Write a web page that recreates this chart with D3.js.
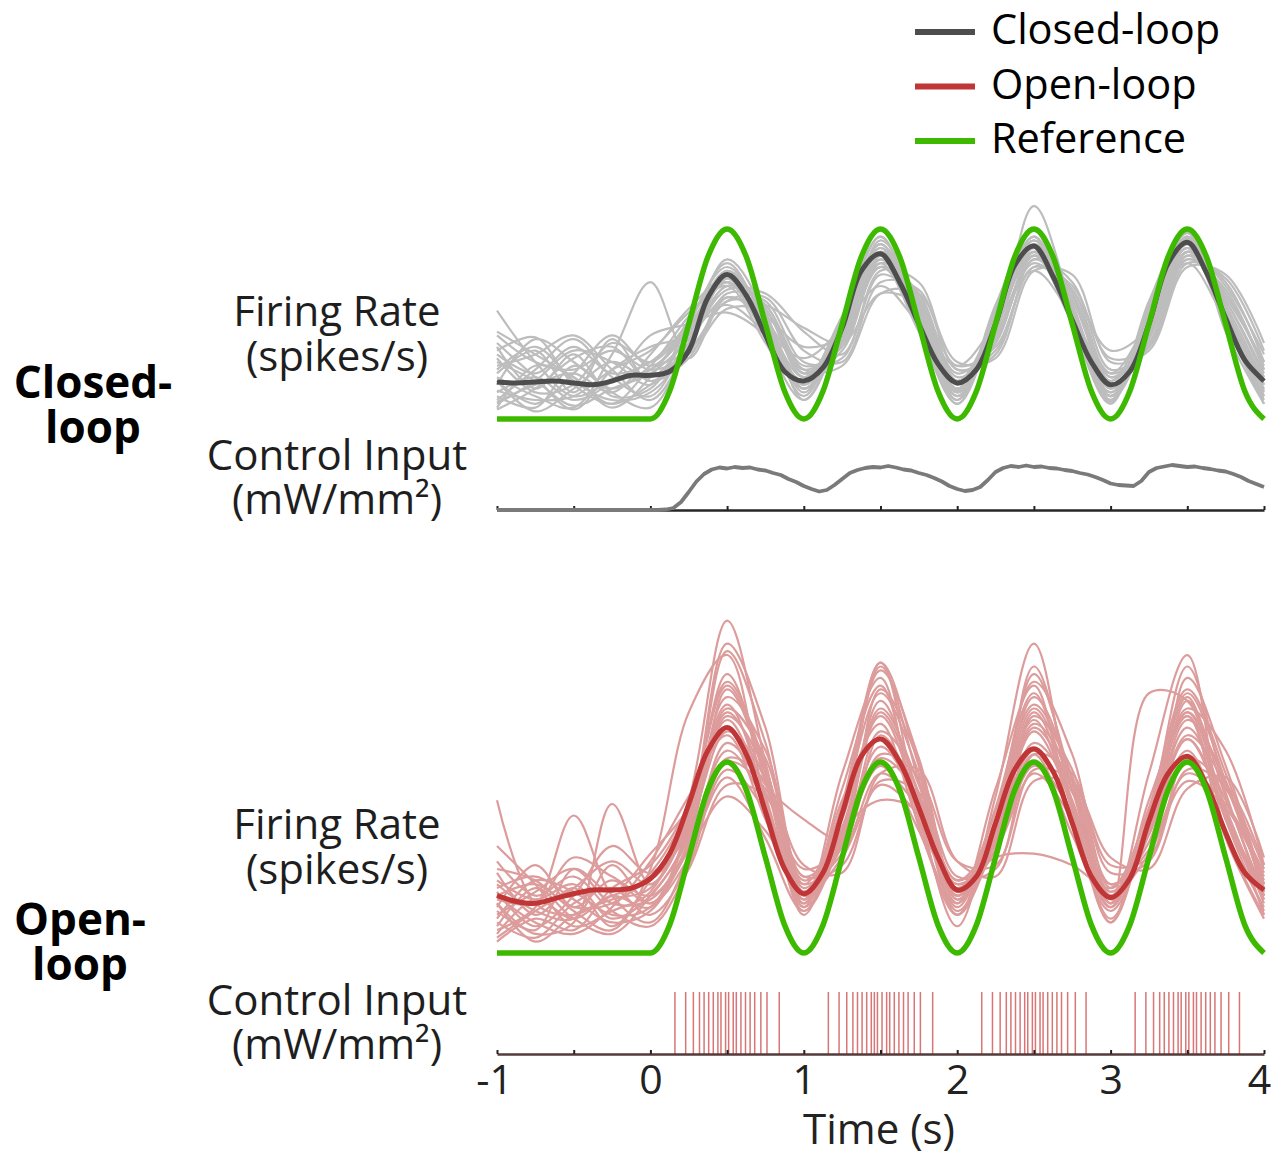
<!DOCTYPE html>
<html>
<head>
<meta charset="utf-8">
<script src="https://cdn.jsdelivr.net/npm/d3@7"></script>
<style>
  html, body { margin: 0; padding: 0; background: #fff; }
  svg { display: block; }
  text { font-family: "Open Sans", "Noto Sans", sans-serif; }
</style>
</head>
<body>
<svg id="chart" width="1274" height="1156"></svg>
<script>
// ---- sample times (s) ----
const trialTimes = [-1, -0.75, -0.5, -0.25, 0, 0.25, 0.5, 0.75, 1, 1.25, 1.5, 1.75, 2, 2.25, 2.5, 2.75, 3, 3.25, 3.5, 3.75, 4];
const meanTimes = [-1, -0.875, -0.75, -0.625, -0.5, -0.375, -0.25, -0.125, 0,
  0.125, 0.25, 0.375, 0.5, 0.625, 0.75, 0.875, 1,
  1.125, 1.25, 1.375, 1.5, 1.625, 1.75, 1.875, 2,
  2.125, 2.25, 2.375, 2.5, 2.625, 2.75, 2.875, 3,
  3.125, 3.25, 3.375, 3.5, 3.625, 3.75, 3.875, 4];
const timeTicks = [-1, -0.5, 0, 0.5, 1, 1.5, 2, 2.5, 3, 3.5, 4];
const timeLabels = [-1, 0, 1, 2, 3, 4];

// ---- reference firing rate (spikes/s) ----
const referenceRate = [0, 0, 0, 0, 0, 0, 0, 0, 0,
  1.46, 5, 8.54, 10, 8.54, 5, 1.46, 0,
  1.46, 5, 8.54, 10, 8.54, 5, 1.46, 0,
  1.46, 5, 8.54, 10, 8.54, 5, 1.46, 0,
  1.46, 5, 8.54, 10, 8.54, 5, 1.46, 0];

// ---- closed-loop trial-averaged firing rate ----
const closedMean = [1.95, 1.9, 1.95, 2.0, 1.9, 1.8, 2.0, 2.3, 2.3,
  2.5, 3.6, 6.4, 7.6, 6.5, 4.4, 2.5, 2.0,
  2.7, 4.8, 7.8, 8.7, 7.2, 5.0, 2.9, 1.9,
  2.6, 5.0, 8.1, 9.1, 7.5, 5.2, 3.0, 1.8,
  2.5, 5.0, 8.2, 9.3, 7.7, 5.3, 3.1, 2.0];

// ---- open-loop trial-averaged firing rate ----
const openMean = [3.0, 2.7, 2.6, 2.85, 3.1, 3.3, 3.3, 3.4, 3.9,
  5.2, 7.8, 10.6, 11.8, 10.4, 7.4, 4.4, 3.1,
  4.2, 7.3, 10.3, 11.2, 10.0, 7.6, 5.0, 3.3,
  4.0, 6.8, 9.6, 10.7, 9.5, 6.8, 4.0, 2.9,
  3.9, 6.9, 9.4, 10.3, 8.8, 6.3, 4.2, 3.3];

// ---- single-trial firing rates, closed-loop ----
const closedTrials = [
  [5.7, 3.0, 1.2, 2.0, 2.6, 4.8, 7.8, 5.4, 1.6, 4.0, 8.8, 6.2, 1.4, 4.6, 9.2, 6.0, 1.2, 4.8, 9.4, 5.6, 1.5],
  [3.6, 4.3, 1.8, 0.8, 1.8, 3.5, 6.2, 6.4, 3.6, 3.0, 7.2, 6.8, 2.6, 3.6, 8.0, 6.8, 2.2, 3.8, 8.4, 6.8, 2.6],
  [1.0, 2.6, 4.2, 2.2, 1.2, 4.4, 8.4, 5.6, 1.0, 5.0, 9.6, 5.2, 0.8, 5.8, 9.9, 5.0, 0.9, 6.0, 9.8, 5.0, 0.8],
  [2.0, 0.8, 2.4, 4.4, 2.8, 4.6, 7.2, 4.6, 2.0, 5.4, 9.0, 5.0, 1.5, 5.4, 9.4, 5.6, 1.0, 5.4, 9.5, 5.2, 1.6],
  [0.5, 1.6, 3.2, 3.8, 2.0, 3.2, 6.6, 6.2, 3.0, 3.2, 7.8, 7.2, 2.6, 3.4, 8.4, 7.2, 2.6, 3.8, 8.6, 7.2, 3.0],
  [2.6, 3.8, 2.0, 1.0, 1.4, 3.8, 7.4, 5.8, 2.2, 4.4, 9.0, 5.6, 1.6, 4.8, 9.0, 5.6, 1.4, 5.0, 9.2, 6.0, 2.0],
  [1.5, 1.0, 1.2, 2.6, 3.6, 5.6, 7.0, 4.0, 1.0, 4.6, 8.2, 4.6, 0.8, 5.0, 8.6, 5.0, 1.0, 4.6, 9.0, 5.0, 1.0],
  [3.0, 2.0, 0.7, 1.6, 2.4, 4.2, 6.8, 6.6, 4.6, 3.4, 7.6, 6.2, 2.0, 4.4, 8.2, 6.2, 1.8, 4.4, 8.8, 6.2, 2.2],
  [4.4, 3.0, 2.6, 3.6, 2.6, 3.4, 5.8, 5.6, 2.6, 2.8, 6.6, 6.6, 3.0, 3.2, 7.8, 7.6, 3.0, 3.6, 8.0, 7.6, 4.0],
  [0.8, 2.0, 3.6, 3.0, 1.8, 5.0, 8.2, 5.0, 1.2, 5.4, 9.6, 4.8, 1.0, 6.0, 10.0, 5.0, 0.8, 6.2, 10.0, 4.6, 0.8],
  [2.2, 1.2, 0.6, 3.4, 7.2, 3.2, 6.4, 5.2, 2.6, 4.0, 8.0, 6.0, 2.0, 4.4, 8.6, 6.6, 2.0, 4.6, 8.6, 6.2, 2.4],
  [1.8, 4.2, 3.0, 1.4, 0.6, 4.0, 7.6, 5.8, 2.4, 4.6, 8.8, 5.6, 1.0, 5.2, 9.2, 5.4, 1.2, 5.6, 9.6, 5.4, 1.2],
  [3.2, 1.4, 1.8, 4.0, 3.0, 4.8, 6.0, 4.6, 3.2, 4.8, 7.0, 5.0, 2.8, 5.0, 7.8, 5.4, 2.4, 5.2, 8.2, 5.2, 2.2],
  [1.2, 0.6, 2.8, 1.6, 2.8, 5.4, 7.2, 4.4, 2.0, 4.2, 8.4, 6.4, 1.8, 4.6, 11.2, 6.0, 1.6, 4.2, 8.4, 6.6, 2.6],
  [4.0, 2.2, 0.5, 2.6, 3.8, 4.4, 6.4, 5.4, 3.8, 4.4, 8.0, 6.6, 2.2, 4.0, 8.8, 6.8, 3.6, 4.8, 8.8, 6.4, 3.0],
  [0.6, 2.8, 2.2, 0.6, 2.2, 5.2, 8.0, 5.2, 1.4, 5.0, 9.2, 5.4, 1.2, 5.6, 9.6, 5.2, 1.0, 5.8, 9.4, 5.0, 1.2],
  [2.8, 3.4, 4.4, 2.6, 1.0, 3.8, 7.0, 6.0, 2.8, 3.8, 8.6, 6.4, 2.4, 4.2, 8.4, 6.4, 2.2, 4.4, 8.8, 6.6, 2.8],
  [1.4, 2.2, 1.0, 2.0, 4.4, 5.0, 5.6, 4.4, 1.8, 4.8, 8.0, 5.2, 1.6, 5.0, 8.8, 5.2, 1.4, 5.0, 9.0, 5.4, 1.8],
  [3.8, 1.6, 3.4, 1.2, 1.6, 4.6, 7.6, 5.0, 1.6, 4.2, 9.4, 6.0, 1.2, 4.8, 9.4, 5.8, 1.2, 5.0, 9.6, 5.8, 1.4],
  [2.4, 3.6, 1.4, 4.2, 2.0, 4.0, 7.0, 6.0, 2.4, 3.6, 8.2, 6.6, 2.0, 4.0, 8.6, 6.6, 2.4, 4.0, 8.8, 7.0, 3.4],
  [0.9, 1.8, 2.4, 1.4, 3.4, 5.8, 7.4, 4.6, 1.6, 4.8, 9.2, 5.0, 1.4, 5.2, 9.6, 5.2, 1.2, 5.4, 9.8, 5.0, 1.2],
  [4.6, 3.4, 2.2, 0.8, 2.6, 3.6, 6.2, 6.0, 4.8, 4.0, 6.6, 6.0, 2.8, 3.8, 8.0, 7.0, 3.2, 3.8, 8.2, 7.4, 3.6],
  [2.0, 0.4, 1.6, 3.0, 2.2, 4.4, 7.8, 5.4, 1.8, 4.6, 8.8, 5.8, 1.6, 4.8, 9.0, 5.8, 1.6, 5.0, 9.2, 5.8, 1.8],
  [3.4, 2.4, 3.8, 2.4, 3.0, 5.0, 7.2, 5.0, 2.2, 5.0, 8.4, 5.4, 2.0, 5.2, 8.8, 5.6, 2.0, 5.4, 9.0, 5.6, 2.0]
];

// ---- single-trial firing rates, open-loop ----
const openTrials = [
  [8.0, 2.6, 2.0, 3.0, 3.8, 6.4, 12.4, 9.6, 3.2, 6.2, 12.6, 8.4, 3.0, 6.0, 11.8, 8.6, 3.2, 6.4, 11.2, 7.2, 3.0],
  [5.6, 3.6, 1.4, 2.2, 3.2, 8.0, 17.4, 10.0, 2.4, 8.6, 14.0, 7.0, 2.0, 7.6, 13.6, 7.4, 1.8, 7.0, 13.4, 7.0, 2.2],
  [2.0, 3.2, 4.4, 2.6, 2.8, 5.6, 11.0, 8.4, 4.4, 5.6, 10.4, 9.2, 4.8, 4.6, 9.6, 9.0, 4.6, 5.0, 10.2, 8.6, 4.4],
  [3.2, 1.4, 3.0, 5.6, 4.2, 7.4, 14.6, 9.0, 2.0, 7.8, 15.2, 7.4, 1.4, 8.2, 16.2, 7.6, 1.6, 8.0, 12.4, 6.0, 1.8],
  [1.2, 2.4, 7.2, 3.0, 1.6, 5.0, 9.6, 7.4, 3.0, 5.0, 8.8, 7.2, 3.6, 5.4, 9.4, 7.0, 3.0, 5.2, 9.0, 7.6, 3.8],
  [2.6, 1.0, 1.6, 7.8, 3.6, 6.8, 13.4, 10.6, 4.0, 6.0, 13.8, 10.0, 3.2, 5.4, 12.4, 9.6, 3.6, 5.8, 14.4, 9.8, 3.4],
  [4.4, 3.8, 2.2, 1.2, 4.4, 12.6, 15.6, 8.0, 2.6, 9.4, 14.4, 6.6, 2.6, 8.6, 14.0, 6.8, 2.4, 9.4, 15.6, 6.2, 2.0],
  [1.6, 0.8, 2.6, 3.4, 2.0, 4.6, 10.2, 9.0, 4.6, 4.2, 9.4, 9.6, 4.8, 4.0, 9.0, 8.8, 5.0, 4.4, 8.6, 9.2, 5.0],
  [3.8, 2.8, 3.6, 1.8, 3.0, 6.2, 12.8, 10.2, 3.4, 6.6, 12.8, 8.8, 3.0, 6.8, 12.8, 8.6, 2.6, 7.0, 12.6, 8.8, 3.2],
  [2.4, 4.6, 2.4, 3.8, 2.6, 5.4, 9.2, 6.0, 2.2, 5.8, 9.8, 6.4, 2.0, 5.8, 10.4, 6.2, 2.2, 6.4, 10.6, 6.2, 2.4],
  [0.8, 2.2, 3.4, 4.8, 3.6, 7.0, 15.8, 11.0, 3.2, 7.2, 15.0, 9.0, 2.6, 6.6, 14.6, 9.0, 2.8, 6.2, 13.2, 8.2, 3.0],
  [3.0, 1.6, 1.0, 2.4, 4.8, 8.2, 11.4, 7.0, 2.8, 8.0, 12.0, 6.8, 3.6, 5.0, 5.2, 4.6, 3.4, 7.4, 12.4, 7.0, 2.8],
  [4.8, 3.0, 4.0, 2.2, 1.4, 4.4, 8.8, 8.2, 4.0, 4.6, 9.0, 8.4, 4.0, 4.4, 10.4, 9.4, 4.2, 4.8, 9.6, 8.8, 4.6],
  [1.4, 3.4, 1.8, 1.0, 3.0, 6.0, 13.8, 9.4, 2.6, 6.4, 13.2, 8.2, 2.2, 6.2, 15.0, 8.6, 2.4, 7.2, 15.0, 8.4, 2.8],
  [2.2, 1.2, 4.4, 3.2, 5.2, 7.6, 12.2, 8.8, 7.0, 6.0, 11.4, 8.0, 3.4, 6.4, 11.6, 7.8, 3.0, 6.6, 11.8, 8.0, 4.0],
  [3.4, 4.0, 2.8, 1.6, 2.2, 5.8, 10.6, 7.8, 2.4, 6.0, 10.8, 7.6, 2.0, 6.2, 10.6, 7.2, 1.6, 6.8, 11.2, 7.4, 2.0],
  [0.6, 1.8, 1.2, 3.4, 4.6, 7.8, 14.2, 9.8, 2.8, 7.6, 13.6, 9.4, 3.0, 7.4, 13.0, 9.2, 3.0, 7.6, 13.8, 9.4, 3.6],
  [2.8, 2.6, 5.0, 4.0, 3.0, 5.4, 8.2, 6.4, 3.6, 5.2, 9.4, 7.6, 3.8, 5.6, 9.8, 7.4, 3.6, 5.4, 9.4, 7.8, 4.2],
  [1.8, 3.8, 3.2, 2.0, 2.4, 6.8, 16.2, 11.8, 3.6, 7.6, 14.8, 10.2, 3.2, 7.4, 14.2, 10.4, 3.4, 6.8, 12.8, 10.6, 4.6],
  [3.6, 2.2, 1.8, 4.6, 2.6, 5.0, 10.0, 8.6, 3.8, 5.8, 10.2, 8.2, 3.0, 5.8, 11.0, 8.4, 3.2, 6.2, 11.4, 8.8, 3.6],
  [2.6, 0.6, 2.0, 2.8, 3.4, 7.2, 13.0, 8.2, 2.2, 7.0, 12.4, 7.8, 2.4, 7.0, 12.2, 7.6, 2.4, 7.2, 12.6, 7.6, 2.6],
  [4.2, 2.0, 3.4, 1.4, 3.8, 6.6, 11.6, 9.2, 3.0, 5.6, 11.6, 9.0, 2.8, 6.0, 12.0, 9.2, 3.0, 6.4, 12.2, 9.0, 3.0],
  [1.0, 2.8, 1.8, 3.0, 2.4, 6.4, 12.6, 9.0, 2.8, 6.4, 8.0, 7.4, 3.8, 6.4, 12.6, 8.0, 2.6, 13.6, 13.2, 7.0, 3.6],
  [3.0, 3.6, 2.4, 2.6, 4.2, 7.6, 14.0, 9.6, 3.2, 7.2, 15.2, 9.8, 2.8, 6.8, 13.4, 9.2, 2.6, 7.0, 13.6, 9.0, 3.2]
];

// ---- closed-loop light intensity (mW/mm^2) ----
const controlTimes = [-1, 0, 0.05, 0.1, 0.15, 0.2, 0.25, 0.3, 0.35, 0.4, 0.45, 0.5, 0.55, 0.6, 0.65, 0.7, 0.75, 0.8, 0.85, 0.9, 0.95,
  1, 1.05, 1.1, 1.15, 1.2, 1.25, 1.3, 1.35, 1.4, 1.45, 1.5, 1.55, 1.6, 1.65, 1.7, 1.75, 1.8, 1.85, 1.9, 1.95,
  2, 2.05, 2.1, 2.15, 2.2, 2.25, 2.3, 2.35, 2.4, 2.45, 2.5, 2.55, 2.6, 2.65, 2.7, 2.75, 2.8, 2.85, 2.9, 2.95,
  3, 3.05, 3.1, 3.15, 3.2, 3.25, 3.3, 3.35, 3.4, 3.45, 3.5, 3.55, 3.6, 3.65, 3.7, 3.75, 3.8, 3.85, 3.9, 3.95, 4];
const controlInput = [0, 0, 0, 0.01, 0.04, 0.16, 0.36, 0.57, 0.72, 0.81, 0.85, 0.83, 0.86, 0.84, 0.85, 0.81, 0.79, 0.74, 0.70, 0.62, 0.56,
  0.48, 0.42, 0.37, 0.40, 0.50, 0.62, 0.74, 0.80, 0.84, 0.86, 0.85, 0.88, 0.85, 0.81, 0.79, 0.74, 0.70, 0.64, 0.57, 0.48,
  0.42, 0.38, 0.40, 0.46, 0.60, 0.76, 0.84, 0.88, 0.86, 0.89, 0.86, 0.87, 0.84, 0.83, 0.80, 0.78, 0.74, 0.71, 0.66, 0.60,
  0.53, 0.50, 0.49, 0.48, 0.58, 0.76, 0.84, 0.87, 0.90, 0.88, 0.86, 0.87, 0.84, 0.82, 0.79, 0.77, 0.72, 0.66, 0.58, 0.52, 0.46];

// ---- open-loop light pulse times (s) ----
const pulseTimes = [
  0.16, 0.23, 0.28, 0.32, 0.35, 0.38, 0.41, 0.44, 0.46, 0.49, 0.51, 0.54, 0.56, 0.59, 0.62, 0.65, 0.68, 0.72, 0.76, 0.84,
  1.16, 1.23, 1.28, 1.32, 1.35, 1.38, 1.41, 1.44, 1.46, 1.48, 1.51, 1.54, 1.56, 1.59, 1.62, 1.65, 1.68, 1.72, 1.76, 1.84,
  2.16, 2.23, 2.28, 2.32, 2.35, 2.38, 2.41, 2.44, 2.46, 2.49, 2.51, 2.54, 2.56, 2.59, 2.62, 2.65, 2.68, 2.72, 2.77, 2.84,
  3.16, 3.23, 3.28, 3.32, 3.35, 3.38, 3.41, 3.44, 3.46, 3.49, 3.51, 3.54, 3.56, 3.59, 3.62, 3.65, 3.68, 3.72, 3.77, 3.84
];

const legendItems = ["Closed-loop", "Open-loop", "Reference"];

// ---- styles ----
const COLORS = {
  closedTrial: "#bdbdbd", closedMean: "#4d4d4d",
  openTrial: "#dd9c9c", openMean: "#c03535",
  reference: "#3dba00", control: "#7a7a7a", pulse: "#d46868",
  text: "#1e1e1e"
};

const svg = d3.select("#chart");
const x = d3.scaleLinear().domain([-1, 4]).range([497, 1264]);

function rateLine(y, times, curve) {
  return d3.line().x((d, i) => x(times[i])).y(d => y(d)).curve(curve);
}

function drawRatePanel(g, y, trials, mean, trialColor, meanColor) {
  const trialLine = rateLine(y, trialTimes, d3.curveCatmullRom.alpha(0.5));
  g.append("g").selectAll("path").data(trials).join("path")
    .attr("d", trialLine).attr("fill", "none")
    .attr("stroke", trialColor).attr("stroke-width", 2.2);
  g.append("path").datum(mean)
    .attr("d", rateLine(y, meanTimes, d3.curveCatmullRom.alpha(0.5)))
    .attr("fill", "none").attr("stroke", meanColor).attr("stroke-width", 5);
  g.append("path").datum(referenceRate)
    .attr("d", rateLine(y, meanTimes, d3.curveMonotoneX))
    .attr("fill", "none").attr("stroke", COLORS.reference).attr("stroke-width", 5.5);
}

function drawTimeAxis(g, yPos, color) {
  const ax = g.append("g").attr("transform", `translate(0,${yPos})`)
    .call(d3.axisTop(x).tickValues(timeTicks).tickSizeInner(4).tickSizeOuter(0).tickFormat(""));
  ax.select(".domain").attr("stroke", color).attr("stroke-width", 2.6);
  ax.selectAll(".tick line").attr("stroke", "#222").attr("stroke-width", 2);
  return ax;
}

// two-line label drawn as one text element
function stackedLabel(lines, cx, baselines, size, weight) {
  const t = svg.append("text").attr("text-anchor", "middle").attr("font-size", size)
    .attr("font-weight", weight).attr("fill", weight === "bold" ? "#000" : COLORS.text);
  lines.forEach((s, i) => {
    t.append("tspan").attr("x", cx).attr("y", baselines[i]).text(s);
  });
}

// ===== Closed-loop panel =====
const yTop = d3.scaleLinear().domain([0, 10]).range([419, 229]);
const yTopCtrl = d3.scaleLinear().domain([0, 1]).range([510, 460]);
drawRatePanel(svg.append("g"), yTop, closedTrials, closedMean, COLORS.closedTrial, COLORS.closedMean);
drawTimeAxis(svg.append("g"), 510, "#262626");
svg.append("path").datum(controlInput)
  .attr("d", d3.line().x((d, i) => x(controlTimes[i])).y(d => yTopCtrl(d)))
  .attr("fill", "none").attr("stroke", COLORS.control).attr("stroke-width", 3.8)
  .attr("stroke-linejoin", "round");

// ===== Open-loop panel =====
const yBot = d3.scaleLinear().domain([0, 10]).range([953, 762]);
const yBotCtrl = d3.scaleLinear().domain([0, 1]).range([1054, 992]);
drawRatePanel(svg.append("g"), yBot, openTrials, openMean, COLORS.openTrial, COLORS.openMean);
svg.append("g").selectAll("line").data(pulseTimes).join("line")
  .attr("x1", d => x(d)).attr("x2", d => x(d))
  .attr("y1", yBotCtrl(0)).attr("y2", yBotCtrl(1))
  .attr("stroke", COLORS.pulse).attr("stroke-width", 1.5).attr("opacity", 0.9);
drawTimeAxis(svg.append("g"), 1054, "#553a3a");

// tick labels and axis title
const labelAxis = svg.append("g").attr("transform", "translate(0,1054)")
  .call(d3.axisBottom(x).tickValues(timeLabels).tickSize(0).tickPadding(11).tickFormat(d => String(d)));
labelAxis.select(".domain").remove();
labelAxis.selectAll("text").attr("font-size", 41).attr("fill", "#222")
  .attr("font-family", '"Open Sans", "Noto Sans", sans-serif')
  .attr("dx", d => d === 4 ? -5 : (d === -1 ? -3 : 0));
svg.append("text").attr("x", 879).attr("y", 1144).attr("text-anchor", "middle")
  .attr("font-size", 42).attr("fill", "#222").text("Time (s)");

// ===== row labels =====
stackedLabel(["Firing Rate", "(spikes/s)"], 337, [326, 371], 42, "normal");
stackedLabel(["Control Input", "(mW/mm²)"], 337, [470, 514], 42, "normal");
stackedLabel(["Firing Rate", "(spikes/s)"], 337, [839, 884], 42, "normal");
stackedLabel(["Control Input", "(mW/mm²)"], 337, [1015, 1059], 42, "normal");
stackedLabel(["Closed-", "loop"], 93, [398, 443], 44, "bold");
stackedLabel(["Open-", "loop"], 80, [935, 980], 44, "bold");

// ===== legend =====
const legendColors = [COLORS.closedMean, COLORS.openMean, COLORS.reference];
const legend = svg.append("g");
legendItems.forEach((name, i) => {
  const yy = 32 + i * 54.5;
  legend.append("line").attr("x1", 915).attr("x2", 975).attr("y1", yy).attr("y2", yy)
    .attr("stroke", legendColors[i]).attr("stroke-width", 6);
  legend.append("text").attr("x", 991).attr("y", yy + 12).attr("font-size", 41.5)
    .attr("fill", "#000").text(name);
});
</script>
</body>
</html>
